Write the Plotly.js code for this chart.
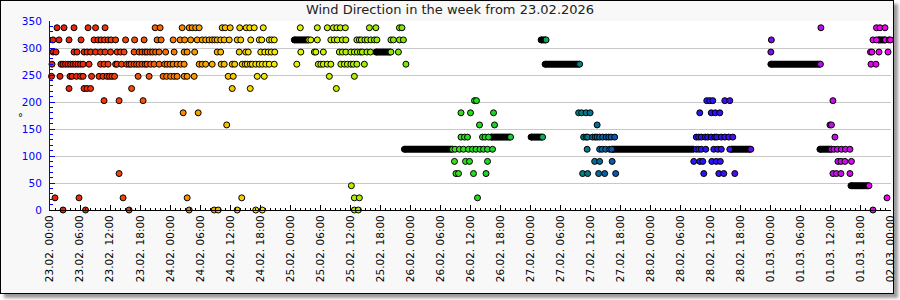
<!DOCTYPE html>
<html><head><meta charset="utf-8">
<script src="https://cdn.plot.ly/plotly-3.0.1.min.js"></script>
<style>
html,body{margin:0;padding:0;background:#fff;}
#frame{position:absolute;left:0;top:0;width:894px;height:294px;box-sizing:border-box;border:1px solid #000;background:#f8f8f8;box-shadow:4px 4px 3px #9a9a9a;}
#chart{position:absolute;left:0;top:0;width:900px;height:300px;}
</style></head><body>
<div id="frame"></div><div id="chart"></div>
<script>
// Hours after 23.02.2026 00:00, grouped by wind direction (degrees)
const directions = [0, 22.5, 45, 67.5, 90, 112.5, 135, 157.5, 180, 202.5, 225, 247.5, 270, 292.5, 315, 337.5];

const t000 = [2.6, 7.1, 15.8, 27.8, 32.8, 33.6, 37.4, 41.1, 42.4, 60.8, 61.6, 164.4];
const t022 = [1.0, 5.8, 14.6, 27.4, 38.3, 60.8, 61.8, 85.4, 167.2];
const t045 = [60.2, 163.6];
const t067 = [13.8, 81.1, 81.6, 84.6, 87.1, 106.4, 107.4, 109.6, 110.8, 113.0, 130.6, 133.6, 134.6, 136.8, 156.4, 157.1, 158.0, 159.8];
const t090 = [80.8, 83.0, 83.8, 87.4, 108.8, 109.8, 112.3, 128.6, 129.8, 130.4, 132.2, 133.1, 133.9, 157.4, 158.0, 158.8, 160.1];
const t112 = [80.4, 80.9, 81.8, 82.6, 83.6, 84.4, 85.1, 85.9, 86.6, 87.4, 88.4, 107.3, 109.8, 110.3, 111.0, 111.8, 112.2, 129.1, 129.6, 130.1, 131.0, 132.6, 133.4, 134.1, 135.8, 140.0, 156.1, 156.6, 157.3, 158.1, 158.9, 159.8];
const t135 = [82.1, 82.8, 83.4, 86.4, 86.9, 87.6, 92.0, 98.4, 106.6, 107.1, 107.4, 108.4, 108.9, 109.3, 109.8, 110.4, 111.1, 111.6, 112.1, 112.8, 129.1, 129.6, 130.1, 130.9, 131.4, 132.1, 132.8, 133.2, 134.1, 134.8, 135.6, 136.4, 156.8];
const t157 = [35.3, 85.8, 88.8, 109.3, 155.8, 156.1];
const t180 = [26.6, 29.6, 82.1, 84.0, 88.6, 105.6, 106.2, 107.1, 107.9, 129.8, 132.1, 132.9, 133.8];
const t202 = [10.8, 13.8, 18.6, 84.8, 85.2, 131.2, 131.8, 132.4, 134.8, 135.8, 156.4];
const t225 = [3.8, 6.8, 7.4, 8.1, 16.3, 36.4, 40.0, 57.2];
const t247 = [0.3, 2.0, 4.0, 4.4, 5.3, 6.1, 6.6, 8.3, 9.8, 10.6, 11.4, 11.9, 12.4, 12.9, 17.6, 19.8, 22.6, 23.3, 24.1, 24.8, 25.4, 26.8, 27.4, 28.8, 35.6, 36.6, 41.4, 42.8, 55.8, 60.8];
const t270 = [0.4, 2.2, 2.6, 3.1, 3.6, 4.1, 4.6, 5.1, 5.6, 6.1, 6.6, 7.8, 10.1, 10.8, 11.6, 13.1, 13.4, 14.3, 15.3, 15.8, 16.2, 16.8, 17.3, 17.8, 18.4, 19.0, 19.4, 20.1, 20.8, 21.8, 22.9, 23.4, 24.0, 24.6, 25.4, 26.1, 26.8, 29.8, 30.4, 31.1, 32.4, 34.2, 34.8, 36.4, 36.9, 38.4, 39.0, 39.4, 40.0, 40.4, 41.1, 41.8, 42.4, 43.1, 43.8, 44.8, 49.3, 53.6, 54.1, 54.6, 55.4, 56.1, 58.1, 58.8, 59.4, 60.1, 60.6, 61.3, 62.8, 71.1, 105.8, 153.9, 164.0, 165.0];
const t292 = [0.6, 1.2, 4.8, 5.4, 6.8, 7.4, 8.1, 9.1, 10.1, 11.0, 12.1, 13.4, 14.1, 14.8, 16.8, 17.8, 18.4, 19.0, 19.4, 20.0, 20.5, 21.1, 21.8, 23.1, 24.8, 26.8, 27.4, 28.9, 33.4, 34.1, 37.8, 39.1, 39.6, 42.1, 42.9, 43.6, 44.2, 44.9, 50.1, 52.8, 53.1, 54.6, 57.8, 58.4, 59.1, 60.1, 60.8, 61.4, 62.0, 62.4, 63.3, 64.0, 68.1, 69.6, 144.0, 163.9, 164.2, 165.6, 167.4];
const t315 = [0.6, 1.8, 3.8, 6.2, 8.8, 9.6, 10.2, 10.9, 11.6, 12.2, 13.1, 15.1, 16.9, 18.8, 21.4, 22.2, 24.6, 26.0, 26.9, 28.1, 29.4, 30.4, 31.1, 31.8, 32.4, 32.9, 33.4, 34.1, 34.8, 35.8, 37.4, 38.1, 40.1, 41.8, 42.3, 43.8, 44.3, 44.8, 51.7, 52.1, 53.4, 56.1, 56.8, 57.4, 58.4, 59.1, 61.3, 61.8, 62.2, 62.9, 63.4, 64.1, 64.8, 65.3, 68.1, 68.6, 69.8, 70.6, 99.1, 144.1, 164.4, 165.1, 166.9, 167.6, 167.9];
const t337 = [1.4, 2.8, 4.8, 7.6, 9.1, 11.0, 21.0, 22.0, 26.4, 27.8, 28.4, 29.1, 29.8, 34.4, 35.0, 36.0, 37.9, 39.2, 39.9, 40.8, 42.6, 50.0, 53.4, 55.4, 56.6, 57.3, 58.0, 59.0, 63.8, 65.1, 69.8, 70.3, 154.0, 165.1, 165.8, 166.8];

// Periods of unchanged direction (dense readings, shown as a solid bar)
const runStart = [48.8, 65.1, 70.8, 88.1, 96.1, 98.1, 98.9, 112.4, 136.1, 144.0, 153.8, 160.0, 165.5];
const runEnd   = [51.7, 68.1, 80.4, 92.0, 98.4, 99.1, 105.8, 128.7, 140.0, 153.9, 156.1, 163.6, 166.9];
const runDir   = [315, 292.5, 112.5, 135, 135, 315, 270, 112.5, 112.5, 270, 112.5, 45, 315];

const startMs = Date.UTC(2026, 1, 23, 0, 0, 0);
function toDate(h) {
  return new Date(startMs + Math.round(h * 3600000)).toISOString().slice(0, 19).replace('T', ' ');
}

const hoursByDir = [t000, t022, t045, t067, t090, t112, t135, t157, t180, t202, t225, t247, t270, t292, t315, t337];
const pts = [];
directions.forEach((d, i) => hoursByDir[i].forEach(h => pts.push([h, d])));
pts.sort((a, b) => a[0] - b[0]);

const runX = [], runY = [];
runStart.forEach((s, i) => { runX.push(toDate(s), toDate(runEnd[i]), null); runY.push(runDir[i], runDir[i], null); });

const colorscale = [
  [0.000, 'rgb(232,28,12)'],
  [0.060, 'rgb(238,52,10)'],
  [0.119, 'rgb(245,90,10)'],
  [0.167, 'rgb(250,150,0)'],
  [0.214, 'rgb(250,195,0)'],
  [0.250, 'rgb(248,230,0)'],
  [0.286, 'rgb(235,245,0)'],
  [0.357, 'rgb(180,240,0)'],
  [0.429, 'rgb(120,230,10)'],
  [0.500, 'rgb(40,220,30)'],
  [0.560, 'rgb(20,200,60)'],
  [0.595, 'rgb(10,160,90)'],
  [0.631, 'rgb(0,128,128)'],
  [0.667, 'rgb(10,90,170)'],
  [0.726, 'rgb(30,40,235)'],
  [0.786, 'rgb(40,20,245)'],
  [0.833, 'rgb(100,10,230)'],
  [0.893, 'rgb(160,20,230)'],
  [0.952, 'rgb(210,10,235)'],
  [1.000, 'rgb(245,0,245)']
];

const traces = [
  { x: runX, y: runY, type: 'scatter', mode: 'lines', line: { color: '#000', width: 7 }, hoverinfo: 'skip', cliponaxis: false },
  { x: runStart.map(toDate), y: runDir, type: 'scatter', mode: 'markers', cliponaxis: false,
    marker: { symbol: 'circle', size: 6, color: '#000', line: { color: '#000', width: 1 } }, hoverinfo: 'skip' },
  { x: pts.map(p => toDate(p[0])), y: pts.map(p => p[1]), type: 'scatter', mode: 'markers', cliponaxis: false,
    marker: { symbol: 'circle', size: 6, color: pts.map(p => p[0]), colorscale: colorscale, cmin: 0, cmax: 168, showscale: false,
      line: { color: '#000', width: 1 } } }
];

const layout = {
  width: 900, height: 300,
  margin: { l: 50, r: 9, t: 21, b: 90, pad: 0 },
  paper_bgcolor: 'rgba(0,0,0,0)', plot_bgcolor: '#ffffff',
  showlegend: false,
  font: { family: 'DejaVu Sans', size: 10.5, color: '#000' },
  title: { text: 'Wind Direction in the week from 23.02.2026', font: { family: 'DejaVu Sans', size: 13, color: '#222' },
    x: 0.5, xref: 'container', xanchor: 'center', y: 0.967, yref: 'container', yanchor: 'middle' },
  xaxis: { type: 'date', range: ['2026-02-23 00:00:00', '2026-03-02 00:00:00'], tick0: '2026-02-23 00:00:00', dtick: 21600000,
    tickformat: '%d.%m. %H:%M', tickangle: -90, ticks: 'inside', ticklen: 5, tickwidth: 1, tickcolor: '#000',
    showline: true, linecolor: '#000', linewidth: 1, showgrid: false, zeroline: false,
    tickfont: { family: 'DejaVu Sans', size: 10.5, color: '#000' },
    minor: { dtick: 3600000, ticks: 'inside', ticklen: 2.5, tickcolor: '#000', tickwidth: 1, showgrid: false } },
  yaxis: { range: [0, 350], tick0: 0, dtick: 50, ticks: 'inside', ticklen: 5, tickwidth: 1, tickcolor: '#0000ff',
    showline: true, linecolor: '#0000ff', linewidth: 1, showgrid: true, gridcolor: '#c8c8c8', gridwidth: 1, zeroline: false,
    tickfont: { family: 'DejaVu Sans', size: 10.5, color: '#0000ff' }, ticklabelstandoff: 5,
    minor: { dtick: 10, ticks: 'inside', ticklen: 3, tickcolor: '#0000ff', tickwidth: 1, showgrid: false } },
  annotations: [
    { text: '°', xref: 'paper', yref: 'paper', x: -0.0345, y: 0.49, xanchor: 'center', yanchor: 'middle', showarrow: false,
      font: { family: 'DejaVu Sans', size: 10, color: '#000' } }
  ]
};

Plotly.newPlot('chart', traces, layout, { staticPlot: true, displayModeBar: false });
</script></body></html>
